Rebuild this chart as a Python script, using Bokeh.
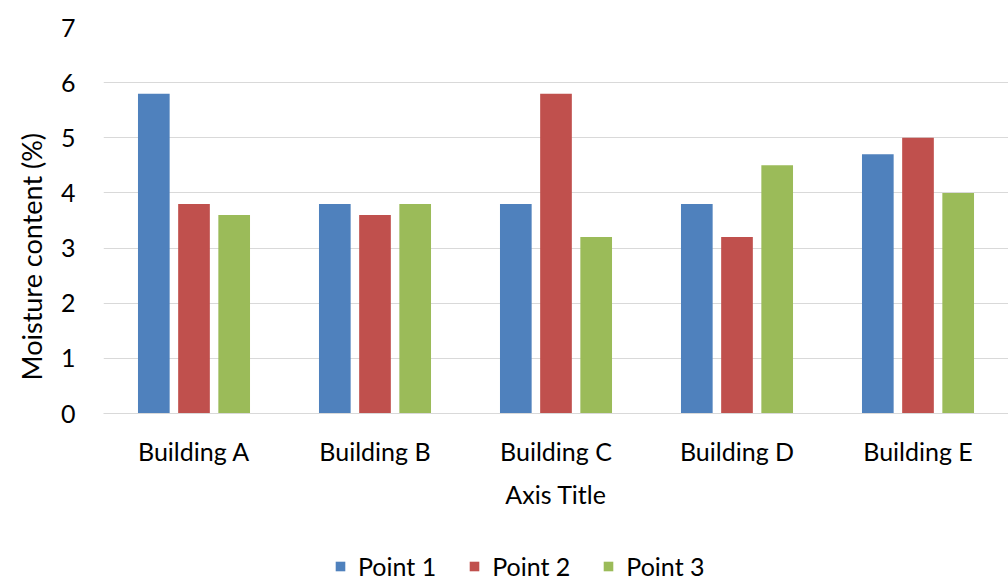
from bokeh.plotting import figure
from bokeh.models import ColumnDataSource, Legend, LegendItem, Title, FactorRange
from bokeh.layouts import column
from bokeh.transform import dodge
from bokeh.embed import file_html
from bokeh.resources import INLINE

buildings = ["Building A", "Building B", "Building C", "Building D", "Building E"]
point1 = [5.8, 3.8, 3.8, 3.8, 4.7]
point2 = [3.8, 3.6, 5.8, 3.2, 5.0]
point3 = [3.6, 3.8, 3.2, 4.5, 4.0]
series_names = ["Point 1", "Point 2", "Point 3"]
colors = ["#4F81BD", "#C0504D", "#9BBB59"]

FONT = "Lato"
FS = "25px"
src = ColumnDataSource(dict(x=buildings, p1=point1, p2=point2, p3=point3))

p = figure(width=1008, height=521, x_range=FactorRange(*buildings, range_padding=0),
           y_range=(0, 7), output_backend="svg", toolbar_location=None,
           min_border_left=103, min_border_right=0, min_border_top=27, min_border_bottom=108)
p.outline_line_color = None
p.background_fill_color = "white"
p.border_fill_color = "white"

keys = ["p1", "p2", "p3"]
for key, off, c in zip(keys, [-0.222, 0.0, 0.222], colors):
    p.vbar(x=dodge("x", off, range=p.x_range), top=key, width=0.175, bottom=0,
           source=src, fill_color=c, line_color=None)

p.ygrid.grid_line_color = "#D9D9D9"
p.ygrid.grid_line_width = 1
p.xgrid.grid_line_color = None

p.yaxis.axis_line_color = None
p.yaxis.major_tick_line_color = None
p.yaxis.minor_tick_line_color = None
p.yaxis.major_label_text_font = FONT
p.yaxis.major_label_text_font_size = FS
p.yaxis.major_label_text_color = "#000000"
p.yaxis.major_label_standoff = 22
p.yaxis.ticker.desired_num_ticks = 8

p.xaxis.axis_line_color = "#D9D9D9"
p.xaxis.axis_line_width = 1
p.xaxis.major_tick_line_color = None
p.xaxis.minor_tick_line_color = None
p.xaxis.major_label_text_font = FONT
p.xaxis.major_label_text_font_size = FS
p.xaxis.major_label_text_color = "#000000"
p.xaxis.major_label_standoff = 16
p.xaxis.axis_label = "Axis Title"
p.xaxis.axis_label_text_font = FONT
p.xaxis.axis_label_text_font_size = FS
p.xaxis.axis_label_text_font_style = "normal"
p.xaxis.axis_label_text_color = "#000000"
p.xaxis.axis_label_standoff = 10

ytitle = Title(text="Moisture content (%)", align="left", offset=33, standoff=20,
               text_font=FONT, text_font_size="27px", text_font_style="normal",
               text_color="#000000")
p.add_layout(ytitle, "left")

# Legend strip below the chart (its bars sit far outside its visible y range)
lf = figure(width=1008, height=60, output_backend="svg", toolbar_location=None,
            x_range=FactorRange(*buildings), y_range=(100, 101),
            min_border_left=0, min_border_right=0, min_border_top=0, min_border_bottom=0)
lf.outline_line_color = None
lf.axis.visible = False
lf.grid.visible = False
lf.border_fill_color = "white"
lrs = []
for key, c in zip(keys, colors):
    lrs.append(lf.vbar(x="x", top=key, width=0.1, source=src, fill_color=c, line_color=None))

legend = Legend(items=[LegendItem(label=n, renderers=[r]) for n, r in zip(series_names, lrs)],
                orientation="horizontal", location=(231, 0),
                label_text_font=FONT, label_text_font_size=FS, label_text_color="#000000",
                glyph_width=12, glyph_height=12, label_standoff=12, spacing=32,
                border_line_color=None, background_fill_alpha=0, margin=0, padding=0)
lf.add_layout(legend, "center")

layout = column(p, lf, spacing=0)
open("out.html", "w").write(file_html(layout, INLINE))
